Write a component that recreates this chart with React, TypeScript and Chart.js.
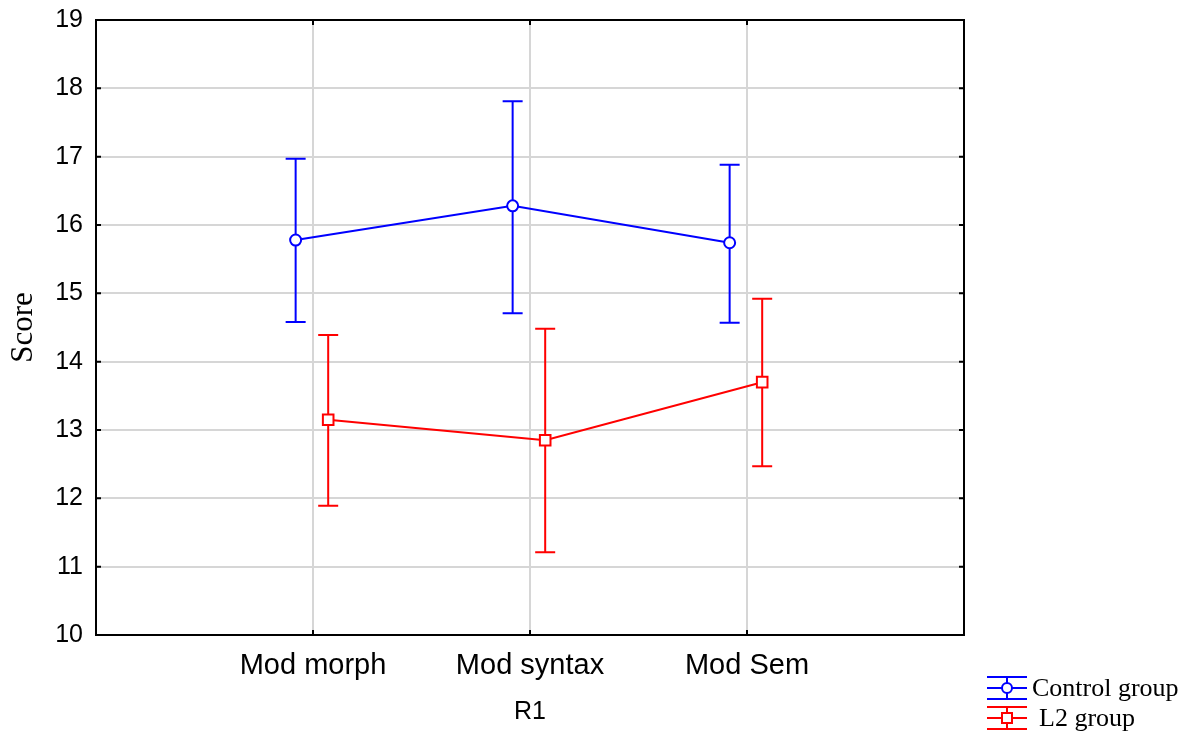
import React, { useEffect, useRef } from "react";
import { Chart, registerables } from "chart.js";

Chart.register(...registerables);

const categories = ["Mod morph", "Mod syntax", "Mod Sem"];
const seriesNames = ["Control group", "L2 group"];
const controlMean = [15.78, 16.28, 15.74];
const controlUpper = [16.97, 17.81, 16.88];
const controlLower = [14.58, 14.71, 14.57];
const l2Mean = [13.15, 12.85, 13.7];
const l2Upper = [14.39, 14.48, 14.92];
const l2Lower = [11.89, 11.21, 12.47];
const yTicks = [10, 11, 12, 13, 14, 15, 16, 17, 18, 19];

const BLUE = "#0000ff";
const RED = "#ff0000";
const CTRL_SHIFT = -0.08;
const L2_SHIFT = 0.07;

export default function App() {
  const ref = useRef<HTMLCanvasElement | null>(null);

  useEffect(() => {
    const canvas = ref.current;
    if (!canvas) return;

    const errorBars = [
      { upper: controlUpper, lower: controlLower, color: BLUE },
      { upper: l2Upper, lower: l2Lower, color: RED },
    ];

    const errorPlugin = {
      id: "errorBars",
      beforeDatasetsDraw(chart: any) {
        const ctx = chart.ctx;
        const xs = chart.scales.x;
        const ys = chart.scales.y;
        ctx.save();
        errorBars.forEach((eb, di) => {
          const ds = chart.data.datasets[di];
          ctx.strokeStyle = eb.color;
          ctx.lineWidth = 2;
          ds.data.forEach((p: any, i: number) => {
            const px = xs.getPixelForValue(p.x);
            const pu = ys.getPixelForValue(eb.upper[i]);
            const pl = ys.getPixelForValue(eb.lower[i]);
            ctx.beginPath();
            ctx.moveTo(px, pu);
            ctx.lineTo(px, pl);
            ctx.moveTo(px - 10, pu);
            ctx.lineTo(px + 10, pu);
            ctx.moveTo(px - 10, pl);
            ctx.lineTo(px + 10, pl);
            ctx.stroke();
          });
        });
        ctx.restore();
      },
    };

    const framePlugin = {
      id: "frame",
      afterDatasetsDraw(chart: any) {
        const ctx = chart.ctx;
        const a = chart.chartArea;
        const xs = chart.scales.x;
        const ys = chart.scales.y;
        ctx.save();
        ctx.strokeStyle = "#000";
        ctx.lineWidth = 2;
        ctx.strokeRect(a.left, a.top, a.right - a.left, a.bottom - a.top);
        ctx.beginPath();
        yTicks.forEach((v) => {
          const py = ys.getPixelForValue(v);
          ctx.moveTo(a.left, py);
          ctx.lineTo(a.left + 5, py);
          ctx.moveTo(a.right, py);
          ctx.lineTo(a.right - 5, py);
        });
        categories.forEach((_, i) => {
          const px = xs.getPixelForValue(i + 1);
          ctx.moveTo(px, a.bottom);
          ctx.lineTo(px, a.bottom - 5);
          ctx.moveTo(px, a.top);
          ctx.lineTo(px, a.top + 5);
        });
        ctx.stroke();
        ctx.restore();
      },
    };

    const legendPlugin = {
      id: "customLegend",
      afterDraw(chart: any) {
        const ctx = chart.ctx;
        const a = chart.chartArea;
        const x0 = a.right + 23;
        const x1 = a.right + 63;
        const xc = (x0 + x1) / 2;
        const items = [
          { name: seriesNames[0], color: BLUE, cy: a.bottom + 53, style: "circle", tx: a.right + 68 },
          { name: seriesNames[1], color: RED, cy: a.bottom + 83, style: "rect", tx: a.right + 75 },
        ];
        ctx.save();
        items.forEach((it) => {
          ctx.strokeStyle = it.color;
          ctx.lineWidth = 2;
          ctx.beginPath();
          ctx.moveTo(x0, it.cy - 11);
          ctx.lineTo(x1, it.cy - 11);
          ctx.moveTo(x0, it.cy);
          ctx.lineTo(x1, it.cy);
          ctx.moveTo(x0, it.cy + 11);
          ctx.lineTo(x1, it.cy + 11);
          ctx.moveTo(xc, it.cy - 11);
          ctx.lineTo(xc, it.cy + 11);
          ctx.stroke();
          ctx.fillStyle = "#fff";
          ctx.beginPath();
          if (it.style === "circle") {
            ctx.arc(xc, it.cy, 5, 0, Math.PI * 2);
          } else {
            ctx.rect(xc - 5, it.cy - 5, 10, 10);
          }
          ctx.fill();
          ctx.stroke();
          ctx.fillStyle = "#000";
          ctx.font = "26px 'Liberation Serif'";
          ctx.textBaseline = "middle";
          ctx.textAlign = "left";
          ctx.fillText(it.name, it.tx, it.cy + 1);
        });
        ctx.restore();
      },
    };

    const chart = new Chart(canvas, {
      type: "line",
      data: {
        datasets: [
          {
            label: seriesNames[0],
            data: controlMean.map((v, i) => ({ x: i + 1 + CTRL_SHIFT, y: v })),
            borderColor: BLUE,
            backgroundColor: "#fff",
            borderWidth: 2,
            pointStyle: "circle",
            pointRadius: 5.5,
            pointBorderWidth: 2,
            pointBackgroundColor: "#fff",
            pointBorderColor: BLUE,
            tension: 0,
          },
          {
            label: seriesNames[1],
            data: l2Mean.map((v, i) => ({ x: i + 1 + L2_SHIFT, y: v })),
            borderColor: RED,
            backgroundColor: "#fff",
            borderWidth: 2,
            pointStyle: "rect",
            pointRadius: 7.5,
            pointBorderWidth: 2,
            pointBackgroundColor: "#fff",
            pointBorderColor: RED,
            tension: 0,
          },
        ],
      },
      options: {
        animation: false,
        responsive: false,
        maintainAspectRatio: false,
        layout: { padding: { left: 0, top: 20, right: 232, bottom: 0 } },
        plugins: {
          legend: { display: false },
          tooltip: { enabled: false },
        },
        scales: {
          x: {
            type: "linear",
            min: 0,
            max: 4,
            afterBuildTicks(scale: any) {
              scale.ticks = categories.map((_, i) => ({ value: i + 1 }));
            },
            afterFit(scale: any) {
              scale.height = 98;
              scale.paddingLeft = 0;
              scale.paddingRight = 0;
            },
            grid: { color: "#d6d6d6", lineWidth: 2, drawTicks: false },
            border: { display: false },
            ticks: {
              padding: 14,
              color: "#000",
              font: { family: "'Liberation Sans'", size: 29 },
              maxRotation: 0,
              autoSkip: false,
              callback: (v: any) => categories[Math.round(Number(v)) - 1] ?? "",
            },
            title: {
              display: true,
              text: "R1",
              color: "#000",
              font: { family: "'Liberation Sans'", size: 25 },
              padding: { top: 0, bottom: 6 },
            },
          },
          y: {
            min: 10,
            max: 19,
            afterBuildTicks(scale: any) {
              scale.ticks = yTicks.map((v) => ({ value: v }));
            },
            afterFit(scale: any) {
              scale.width = 96;
              scale.paddingTop = 0;
              scale.paddingBottom = 0;
            },
            grid: { color: "#d6d6d6", lineWidth: 2, drawTicks: false },
            border: { display: false },
            ticks: {
              padding: 13,
              color: "#000",
              font: { family: "'Liberation Sans'", size: 25 },
            },
            title: {
              display: true,
              text: "Score",
              color: "#000",
              font: { family: "'Liberation Serif'", size: 31 },
              padding: { top: 5, bottom: 0 },
            },
          },
        },
      },
      plugins: [errorPlugin, framePlugin, legendPlugin],
    } as any);

    return () => chart.destroy();
  }, []);

  return (
    <div style={{ position: "fixed", left: 0, top: 0, width: 1196, height: 733, background: "#fff" }}>
      <canvas ref={ref} width={1196} height={733} style={{ width: 1196, height: 733, display: "block" }} />
    </div>
  );
}
